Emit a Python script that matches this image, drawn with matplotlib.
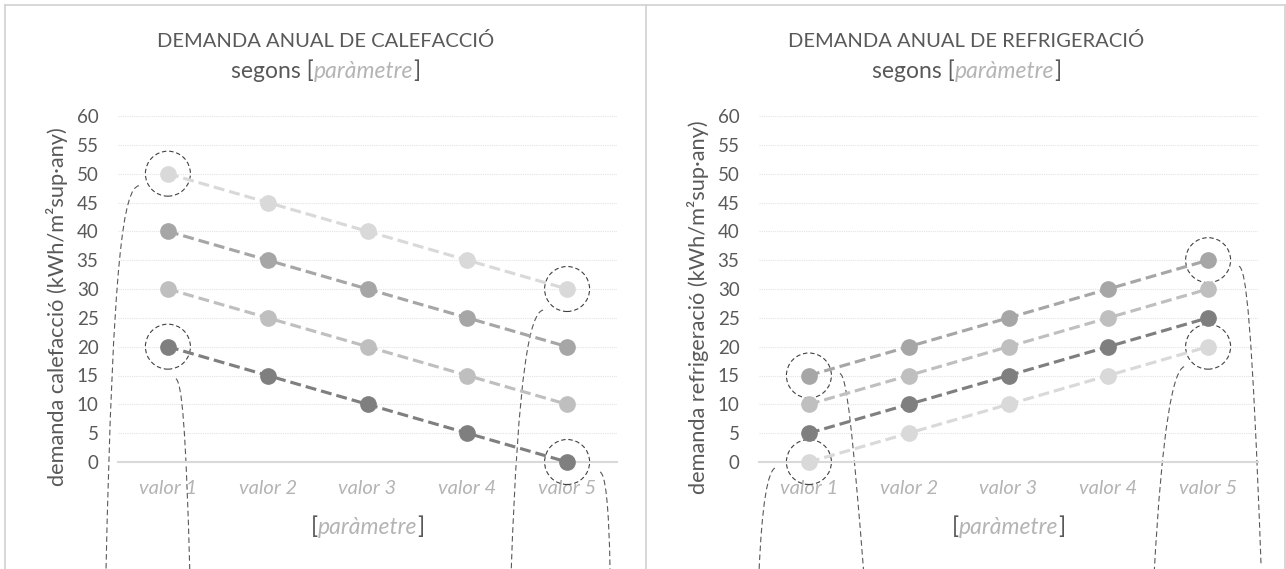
import matplotlib
matplotlib.use('Agg')
import matplotlib.pyplot as plt
from matplotlib.patches import Circle, PathPatch
from matplotlib.path import Path
from matplotlib.lines import Line2D
from matplotlib.transforms import ScaledTranslation
from matplotlib.offsetbox import TextArea, HPacker, AnnotationBbox

# Dades
valors = ['valor 1', 'valor 2', 'valor 3', 'valor 4', 'valor 5']
calef_a = [50, 45, 40, 35, 30]
calef_b = [40, 35, 30, 25, 20]
calef_c = [30, 25, 20, 15, 10]
calef_d = [20, 15, 10, 5, 0]
refrig_a = [15, 20, 25, 30, 35]
refrig_b = [10, 15, 20, 25, 30]
refrig_c = [5, 10, 15, 20, 25]
refrig_d = [0, 5, 10, 15, 20]
y_ticks = [0, 5, 10, 15, 20, 25, 30, 35, 40, 45, 50, 55, 60]

# Colors de les series (mateix ordre que les dades)
colors_calef = ['#d9d9d9', '#a6a6a6', '#bfbfbf', '#7f7f7f']
colors_refrig = ['#a6a6a6', '#bfbfbf', '#7f7f7f', '#d9d9d9']

FONT = 'Lato'
FOSC = '#595959'
CLAR = '#b4b4b4'

fig = plt.figure(figsize=(12.86, 5.69), dpi=100)


def corba(ax, x, y, punts):
    # corba de Bezier en pixels relatius al punt (x, y) de les dades
    trans = fig.dpi_scale_trans + ScaledTranslation(x, y, ax.transData)
    verts = [(px / 100, -py / 100) for px, py in punts]
    path = Path(verts, [Path.MOVETO, Path.CURVE4, Path.CURVE4, Path.CURVE4])
    ax.add_patch(PathPatch(path, fill=False, ec='#595959', lw=0.8,
                           ls=(0, (5, 3)), transform=trans, clip_on=False))


def cercle(ax, x, y):
    trans = fig.dpi_scale_trans + ScaledTranslation(x, y, ax.transData)
    ax.add_patch(Circle((0, 0), 0.225, fill=False, ec='#404040', lw=0.8,
                        ls=(0, (4, 2.5)), transform=trans, clip_on=False))


def text_mixt(ax, xy, parts, size, coords='axes fraction'):
    # text amb trossos de colors i estils diferents
    caixes = [TextArea(t, textprops=dict(color=c, style=s, size=size, family=FONT))
              for t, c, s in parts]
    pack = HPacker(children=caixes, pad=0, sep=0, align='baseline')
    ab = AnnotationBbox(pack, xy, xycoords=coords, frameon=False, box_alignment=(0.5, 0.5),
                        annotation_clip=False)
    ax.add_artist(ab)


def grafic(esq, series, colors, titol, ylabel, destacats, corbes):
    ax = fig.add_axes([esq / 1286, (569 - 462) / 569, 499 / 1286, 346 / 569])
    x = list(range(len(valors)))
    for s, c in zip(series, colors):
        ax.plot(x, s, color=c, lw=2.25, ls=(0, (3.5, 1.6)), marker='o', markersize=11,
                mfc=c, mec=c, clip_on=False, zorder=3)
    ax.set_xlim(-0.5, 4.5)
    ax.set_ylim(0, 60)
    ax.set_yticks(y_ticks)
    ax.set_xticks(x)
    ax.set_xticklabels(valors, fontstyle='italic', color=CLAR, fontsize=14.5, family=FONT)
    for t in ax.get_yticklabels():
        t.set(color=FOSC, fontsize=13.5, family=FONT)
    ax.tick_params(length=0)
    ax.tick_params(axis='y', pad=14)
    ax.tick_params(axis='x', pad=13)
    for sp in ['top', 'right', 'left']:
        ax.spines[sp].set_visible(False)
    ax.spines['bottom'].set(color='#d9d9d9', lw=1.5)
    ax.grid(axis='y', color='#e3e3e3', lw=0.8, ls=(0, (1, 1)))
    ax.set_axisbelow(True)

    # marques destacades i les corbes que en surten
    for (si, pi), punts in zip(destacats, corbes):
        cercle(ax, pi, series[si][pi])
        corba(ax, pi, series[si][pi], punts)

    centre = (esq - 113 + 320.5) / 1286
    fig.text(centre, (569 - 41) / 569, titol, ha='center', va='center', color=FOSC,
             fontsize=14.5, family=FONT)
    text_mixt(ax, (centre, (569 - 71) / 569), [('segons [', FOSC, 'normal'),
                                                 ('paràmetre', CLAR, 'italic'),
                                                 (']', FOSC, 'normal')], 16.5, 'figure fraction')
    text_mixt(ax, (0.5, -0.188), [('[', FOSC, 'normal'), ('paràmetre', CLAR, 'italic'),
                                  (']', FOSC, 'normal')], 16.5)
    fig.text((esq - 61) / 1286, (569 - 307) / 569, ylabel, rotation=90, ha='center', va='center',
             color=FOSC, fontsize=15.7, family=FONT)
    return ax


grafic(118, [calef_a, calef_b, calef_c, calef_d], colors_calef,
       'DEMANDA ANUAL DE CALEFACCIÓ', 'demanda calefacció (kWh/m²sup·any)',
       [(0, 0), (3, 0), (0, 4), (3, 4)],
       [[(-29, 12), (-44, 15), (-55, 80), (-62, 401)],
        [(8, 32), (14, 36), (18, 80), (22, 228)],
        [(-24, 21), (-37, 24), (-49, 80), (-56, 285)],
        [(33, 10), (38, 12), (42, 40), (43, 113)]])

grafic(759, [refrig_a, refrig_b, refrig_c, refrig_d], colors_refrig,
       'DEMANDA ANUAL DE REFRIGERACIÓ', 'demanda refrigeració (kWh/m²sup·any)',
       [(3, 0), (0, 0), (3, 4), (0, 4)],
       [[(-34, 6), (-41, 10), (-47, 40), (-50, 113)],
        [(31, -2), (38, 0), (44, 60), (55, 199)],
        [(-24, 20), (-35, 24), (-46, 80), (-54, 228)],
        [(31, 6), (38, 10), (44, 60), (53, 306)]])

# vores dels dos quadres
vora = dict(color='#d4d4d4', lw=1.3, transform=fig.transFigure)
fig.add_artist(Line2D([5 / 1286, 1285 / 1286], [(569 - 5) / 569] * 2, **vora))
for xv in [5, 646, 1285]:
    fig.add_artist(Line2D([xv / 1286] * 2, [0, (569 - 5) / 569], **vora))

fig.savefig('out.png', dpi=100, facecolor='white')
